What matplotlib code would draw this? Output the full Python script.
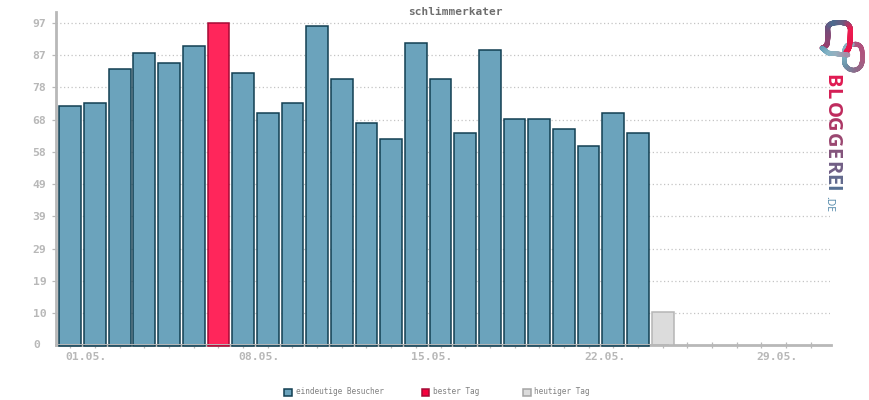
import numpy as np
import matplotlib
matplotlib.use("Agg")
import matplotlib.pyplot as plt
from matplotlib.collections import LineCollection

title = "schlimmerkater"
visitors = [72, 73, 83, 88, 85, 90, 97, 82, 70, 73, 96, 80, 67, 62, 91, 80, 64, 89, 68, 68, 65, 60, 70, 64]
best_index = 6
today_value = [10]
today_index = [24]
n_days = 31
y_ticks = [0, 9.7, 19.4, 29.1, 38.8, 48.5, 58.2, 67.9, 77.6, 87.3, 97]
y_labels = ["0", "10", "19", "29", "39", "49", "58", "68", "78", "87", "97"]
x_ticks = [0, 7, 14, 21, 28]
x_labels = ["01.05.", "08.05.", "15.05.", "22.05.", "29.05."]
legend_labels = ["eindeutige Besucher", "bester Tag", "heutiger Tag"]

W, H = 870, 400
GRAY = "#b8b8b8"
MONO = "DejaVu Sans Mono"
BAR_BASE = -0.3
fig = plt.figure(figsize=(8.7, 4), dpi=100)
ax = fig.add_axes([56 / W, (H - 345.3) / H, (830.5 - 56) / W, (345.3 - 12) / H])
ax.set_xlim(-0.58, 30.8)
ax.set_ylim(0, 100.3)

colors = ["#6ba3bc"] * len(visitors)
edges = ["#123f52"] * len(visitors)
colors[best_index] = "#ff265b"
edges[best_index] = "#a60a35"
heights = [v - BAR_BASE for v in visitors]
ax.bar(range(len(visitors)), heights, bottom=BAR_BASE, width=0.88, color=colors, edgecolor=edges,
       linewidth=1.1, zorder=3, clip_on=False)
ax.bar(today_index, today_value, width=0.88, color="#dcdcdc", edgecolor="#b5b5b5", linewidth=1.1, zorder=3)
ax.axhline(0.45, color=GRAY, linewidth=0.7, zorder=3.5, xmin=0.002, xmax=0.79)

ax.set_yticks(y_ticks[1:])
ax.set_yticklabels(y_labels[1:])
# the date labels sit to the right of their tick
ax.set_xticks([t + 0.65 for t in x_ticks])
ax.set_xticklabels(x_labels)
ax.set_xticks(range(n_days), minor=True)
ax.grid(axis="y", linestyle=(0, (1, 2)), color="#c4c4c4", linewidth=0.9, zorder=1)
ax.text(-0.02, 0, y_labels[0], transform=ax.get_yaxis_transform(), ha="right", va="center",
        family=MONO, fontsize=8.2, fontweight="bold", color=GRAY)
ax.tick_params(axis="y", length=3, width=0.9, color=GRAY, direction="out", pad=4,
               labelcolor=GRAY, labelsize=8.2)
ax.tick_params(axis="x", which="major", length=0, labelcolor=GRAY, labelsize=8.2, pad=5)
ax.tick_params(axis="x", which="minor", length=5, width=0.9, color=GRAY, direction="inout", zorder=2)
for lab in ax.get_xticklabels() + ax.get_yticklabels():
    lab.set_family(MONO)
    lab.set_fontweight("bold")
for s in ("top", "right"):
    ax.spines[s].set_visible(False)
for s in ("left", "bottom"):
    ax.spines[s].set_color(GRAY)
    ax.spines[s].set_linewidth(2)
    ax.spines[s].set_zorder(2.5)

fig.text(455.5 / W, 1 - 12 / H, title, ha="center", va="center", family=MONO,
         fontsize=8, fontweight="bold", color="#6e6e6e")

legend_fc = ["#6ba3bc", "#f5003d", "#dcdcdc"]
legend_ec = ["#123f52", "#a60a35", "#a5a5a5"]
x_leg = [284, 422, 523]
for fc, ec, lab, x in zip(legend_fc, legend_ec, legend_labels, x_leg):
    fig.patches.append(plt.Rectangle((x / W, 1 - 396 / H), 7.5 / W, 7.5 / H, transform=fig.transFigure,
                                     facecolor=fc, edgecolor=ec, linewidth=1.1))
    fig.text((x + 11.5) / W, 1 - 392 / H, lab, ha="left", va="center", family=MONO, fontsize=5.6, color="#808080")

# Logo, drawn in pixel coordinates of the figure
ov = fig.add_axes([0, 0, 1, 1], zorder=10)
ov.set_xlim(0, W)
ov.set_ylim(H, 0)
ov.axis("off")

def grad_line(pts, cols, lw=4.0, smooth=25):
    pts = np.array(pts, float)
    d = np.r_[0, np.cumsum(np.hypot(*np.diff(pts, axis=0).T))]
    t = d / d[-1]
    u = np.linspace(0, 1, 300)
    x = np.interp(u, t, pts[:, 0]); y = np.interp(u, t, pts[:, 1])
    k = np.ones(smooth) / smooth
    h = smooth // 2
    x[h:-h] = np.convolve(x, k, "valid"); y[h:-h] = np.convolve(y, k, "valid")
    segs = np.stack([np.column_stack([x[:-1], y[:-1]]), np.column_stack([x[1:], y[1:]])], axis=1)
    cs = np.array([matplotlib.colors.to_rgb(c) for c in cols])
    tc = np.linspace(0, 1, len(cols))
    rgb = np.column_stack([np.interp(u[:-1], tc, cs[:, i]) for i in range(3)])
    ov.add_collection(LineCollection(segs, colors=rgb, linewidths=lw * 0.72, capstyle="round"))

# right link
grad_line([(852, 44), (858, 44), (862, 48), (862, 65), (857, 70), (850, 70), (844.5, 65), (844.5, 49), (848, 44), (852, 44)],
          ["#a75a82", "#b0507c", "#ab5a80", "#906a8a", "#6b92a8", "#7fb8c8", "#93a8b8"], 4.5)
# bell outline
grad_line([(822, 48), (827, 46), (828, 36), (827.5, 26), (832, 23), (838, 22.5), (846, 22.5), (850.5, 27), (850, 42), (849, 49), (846, 52)],
          ["#a83a68", "#8f4472", "#7a4b78", "#4d6c90", "#6f5a80", "#ef1c51", "#e8164c", "#e8164c"], 5)
# bell bottom
grad_line([(822, 48), (828, 53), (838, 54), (848, 55)],
          ["#5f9cb5", "#85b4c6", "#98aebd", "#a58fa8"], 4.5, smooth=15)

letters = "BLOGGEREI"
let_y = [80.5, 94, 109.5, 124.5, 140, 153.5, 167.5, 179.5, 188.5]
let_c = ["#e01a52", "#d41f55", "#bf2a5d", "#ac3765", "#9a4670", "#83537b", "#715e85", "#62698d", "#566f92"]
for ch, y, c in zip(letters, let_y, let_c):
    ov.text(831.5, y, ch, rotation=-90, ha="center", va="center", fontsize=14.5, fontweight="bold",
            family="Open Sans", color=c)
ov.text(828.5, 204, ".DE", rotation=-90, ha="center", va="center", fontsize=7.5, family="Open Sans", color="#4f86a8")

fig.savefig("out.png", dpi=100, facecolor="white")
